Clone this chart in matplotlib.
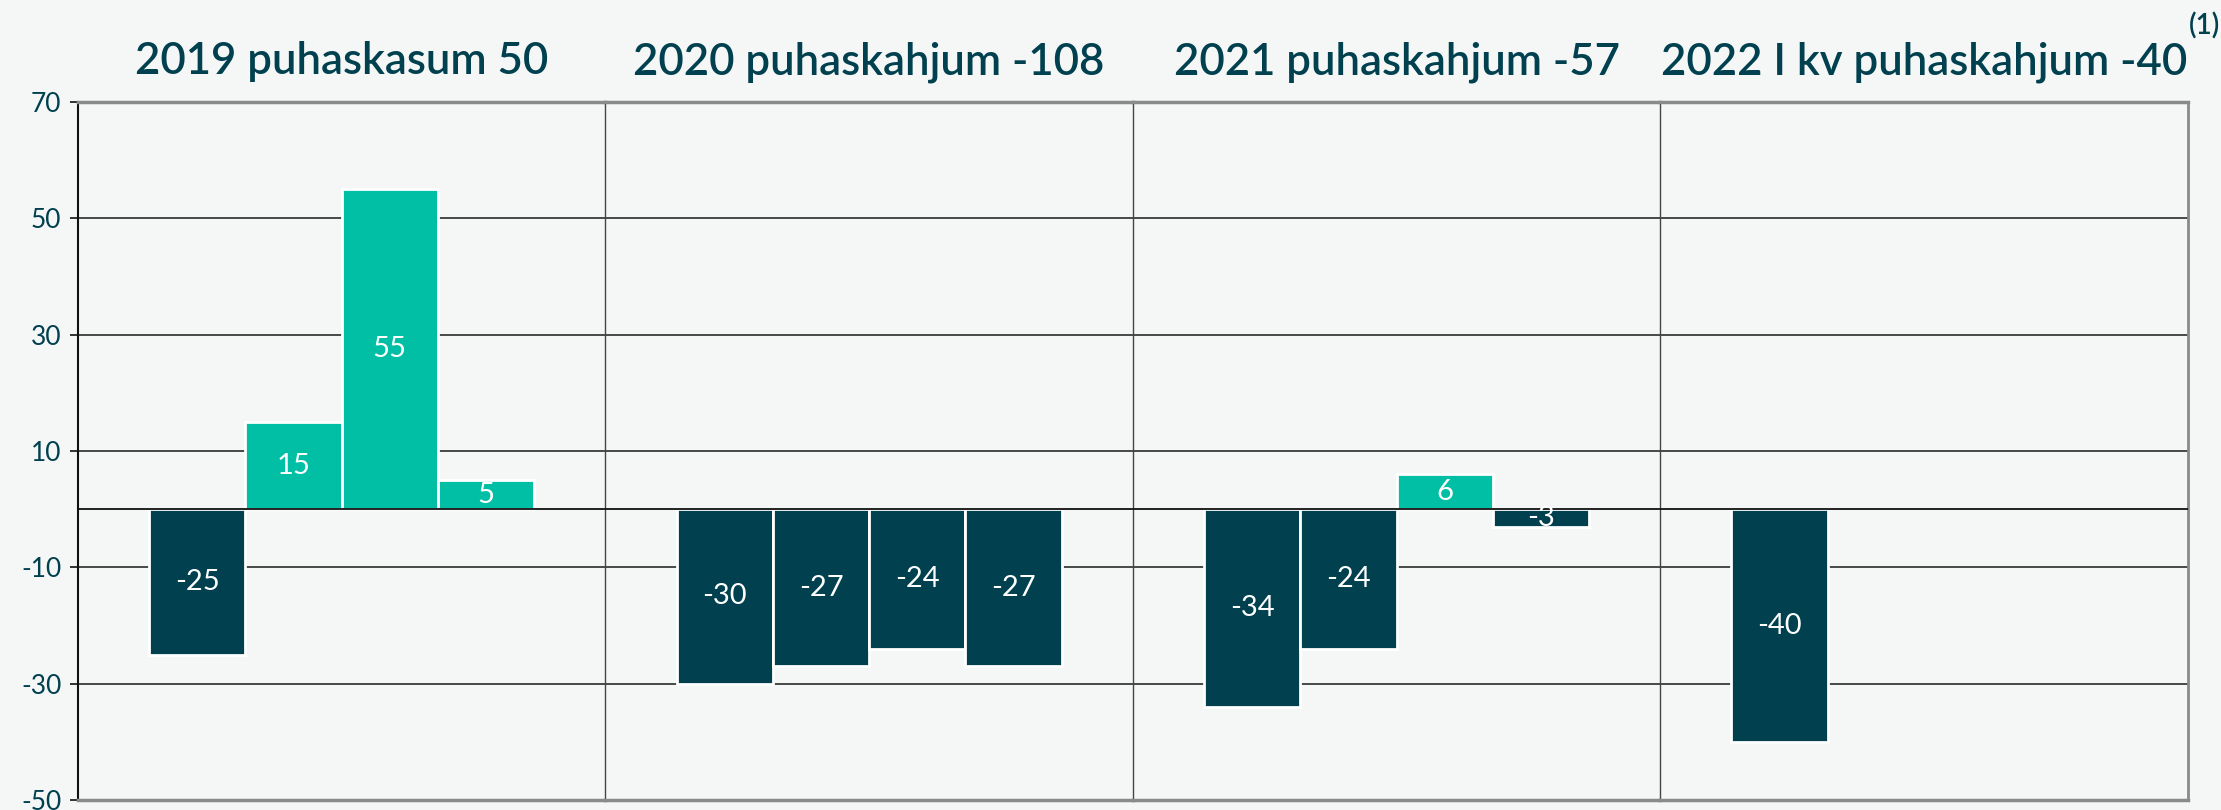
import matplotlib.pyplot as plt

# panel titles and quarterly results
titles = ['2019 puhaskasum 50', '2020 puhaskahjum -108',
          '2021 puhaskahjum -57', '2022 I kv puhaskahjum -40']
values = [
    [-25, 15, 55, 5],
    [-30, -27, -24, -27],
    [-34, -24, 6, -3],
    [-40],
]
footnote = '(1)'
yticks = [70, 50, 30, 10, -10, -30, -50]

DARK = '#00404f'
GREEN = '#00bfa5'
BG = '#f5f7f6'


def main():
    plt.rcParams['font.family'] = ['Lato', 'DejaVu Sans']
    plt.rcParams['axes.unicode_minus'] = False
    fig, axs = plt.subplots(1, 4, figsize=(22.21, 8.1), dpi=100, sharey=True,
                            facecolor=BG)
    fig.subplots_adjust(left=0.0351, right=0.985, top=0.874, bottom=0.0123,
                        wspace=0)

    for i, ax in enumerate(axs):
        ax.set_facecolor(BG)
        vals = values[i]
        xs = list(range(len(vals)))
        cols = [GREEN if v > 0 else DARK for v in vals]
        ax.bar(xs, vals, width=1.0, color=cols, edgecolor='white',
               linewidth=2, zorder=2)
        for x, v in zip(xs, vals):
            ax.text(x, v / 2, str(v), ha='center', va='center', color='white',
                    fontsize=21, zorder=4)
        ax.axhline(0, color='#111111', lw=1.3, zorder=3)
        ax.set_xlim(-1.24, 4.24)
        ax.set_ylim(-50, 70)
        ax.set_yticks(yticks)
        ax.set_xticks([])
        ax.grid(axis='y', color='#2a2a2a', lw=1.2, zorder=0)
        ax.set_axisbelow(True)

        ax.spines['top'].set_color('#8a8a8a')
        ax.spines['top'].set_linewidth(2.5)
        ax.spines['bottom'].set_color('#8a8a8a')
        ax.spines['bottom'].set_linewidth(2.5)
        ax.spines['left'].set_color('#444444' if i else '#111111')
        ax.spines['left'].set_linewidth(1.0 if i else 1.5)
        if i < 3:
            ax.spines['right'].set_visible(False)
        else:
            ax.spines['right'].set_color('#8a8a8a')
            ax.spines['right'].set_linewidth(2)

        if i == 0:
            ax.tick_params(axis='y', length=6, width=1.2, color='#111111',
                           labelsize=19, labelcolor=DARK, pad=6)
        else:
            ax.tick_params(axis='y', length=0, labelleft=False)

        t = ax.set_title(titles[i], fontsize=31.5, color=DARK, pad=20,
                         fontweight='semibold')
        if i == 3:
            ax.annotate(footnote, xy=(1, 1), xycoords=t, xytext=(1, 1),
                        textcoords='offset points', ha='left', va='bottom',
                        fontsize=20, color=DARK, fontweight='semibold',
                        annotation_clip=False)

    fig.savefig('out.png', facecolor=BG)


if __name__ == '__main__':
    main()
